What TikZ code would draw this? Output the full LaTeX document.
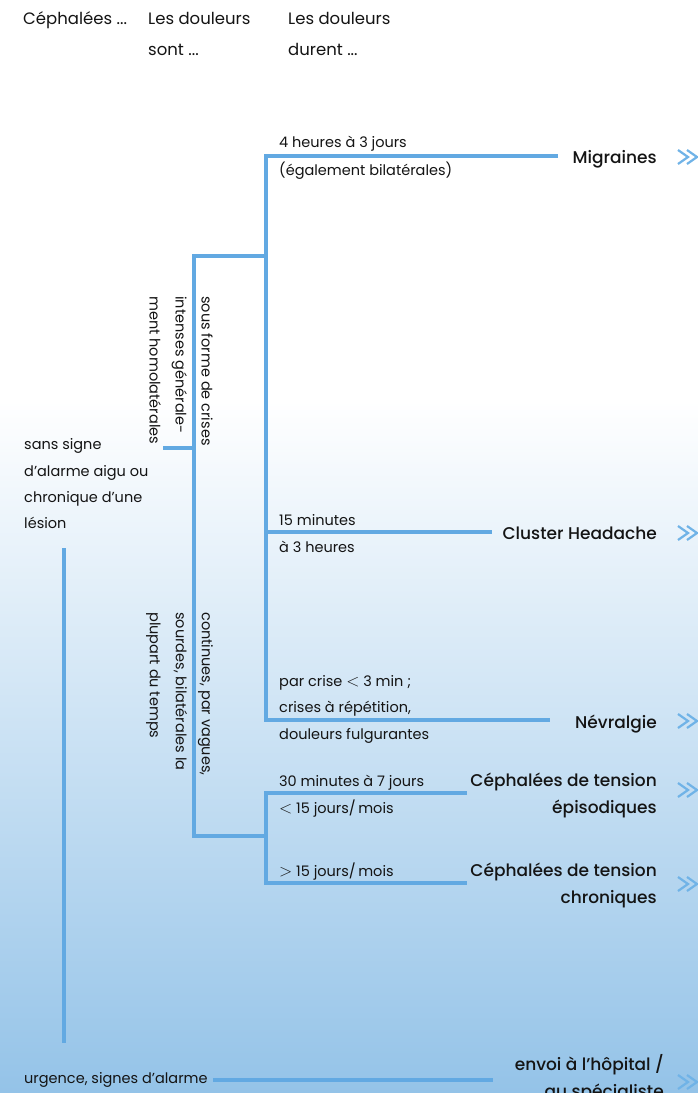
\documentclass[tikz,border=0pt]{standalone}
\usepackage{fontspec}
\setmainfont{Poppins}[BoldFont={Poppins Medium}]
\usetikzlibrary{positioning}
\definecolor{treeblue}{RGB}{98,169,226}
\definecolor{chevblue}{RGB}{112,179,231}
\definecolor{bgblue}{RGB}{148,195,232}
\definecolor{ink}{RGB}{20,20,20}
\newcommand{\bigrel}[1]{{\fontsize{19}{27}\selectfont$#1$}}

\begin{document}
\begin{tikzpicture}[x=1pt, y=-1pt,
    hd/.style={anchor=base west, inner sep=0pt, font=\fontsize{16.5}{30}\selectfont, text=ink},
    txt/.style={anchor=base west, inner sep=0pt, font=\fontsize{14.5}{27}\selectfont, text=ink},
    dx/.style={anchor=base east, inner sep=0pt, font=\bfseries\fontsize{17}{27}\selectfont, text=ink},
    vtxt/.style={anchor=north west, inner sep=0pt, rotate=-90, align=left,
                 font=\fontsize{14.5}{26}\selectfont, text=ink},
    br/.style={draw=treeblue, line width=3.2pt},
    chev/.style={draw=chevblue, line width=2.2pt}]
    \useasboundingbox (0,0) rectangle (698,1093);
    \fill[white] (0,0) rectangle (698,1093);
    \shade[top color=white, bottom color=bgblue] (0,400) rectangle (698,1093);

    % column heads
    \node[hd] (h1) at (23,24) {Céphalées ...};
    \node[hd] (h2a) at (148,24) {Les douleurs};
    \node[hd] (h2b) at (148,55) {sont ...};
    \node[hd] (h3a) at (288,24) {Les douleurs};
    \node[hd] (h3b) at (288,55) {durent ...};

    % tree junctions
    \coordinate (s0) at (163,448);  \coordinate (s1) at (194,448);
    \coordinate (t2top) at (194,256); \coordinate (t2bot) at (194,836);
    \coordinate (c0) at (266,256);
    \coordinate (t3top) at (266,156); \coordinate (t3bot) at (266,720);
    \coordinate (mig0) at (558,156);
    \coordinate (cl0) at (266,532);  \coordinate (cl1) at (492,532);
    \coordinate (nv1) at (550,720);
    \coordinate (k0) at (266,836);
    \coordinate (k1) at (266,793);  \coordinate (k1e) at (467,793);
    \coordinate (k2) at (266,883);  \coordinate (k2e) at (467,883);
    \coordinate (u0) at (64,548);   \coordinate (u1) at (64,1043);
    \coordinate (e0) at (213,1080); \coordinate (e1) at (493,1080);

    \draw[br] (s0) -- (s1);
    \draw[br] (c0) -- (t2top) -- (t2bot) -- (k0);
    \draw[br] (mig0) -- (t3top) -- (t3bot) -- (nv1);
    \draw[br] (cl0) -- (cl1);
    \draw[br] (k1e) -- (k1) -- (k2) -- (k2e);
    \draw[br] (u0) -- (u1);
    \draw[br] (e0) -- (e1);

    % first column
    \node[txt] (a1) at (24,449) {sans signe};
    \node[txt] (a2) at (24,476) {d’alarme aigu ou};
    \node[txt] (a3) at (24,502) {chronique d’une};
    \node[txt] (a4) at (24,528) {lésion};
    \node[txt] (b1) at (24,1083) {urgence, signes d’alarme};

    % second column, turned
    \node[vtxt] (crise) at (213,296) {sous forme de crises\\intenses générale-\\ment homolatérales};
    \node[vtxt] (cont) at (213,612) {continues, par vagues,\\sourdes, bilatérales la\\plupart du temps};

    % durations
    \node[txt] (d1a) at (279,147) {4 heures à 3 jours};
    \node[txt] (d1b) at (279,175) {(également bilatérales)};
    \node[txt] (d2a) at (279,525) {15 minutes};
    \node[txt] (d2b) at (279,552) {à 3 heures};
    \node[txt] (d3a) at (279,686) {par crise \bigrel{<} 3 min ;};
    \node[txt] (d3b) at (279,712) {crises à répétition,};
    \node[txt] (d3c) at (279,739) {douleurs fulgurantes};
    \node[txt] (d4a) at (279,786) {30 minutes à 7 jours};
    \node[txt] (d4b) at (279,813) {\bigrel{<} 15 jours/\,mois};
    \node[txt] (d5a) at (279,876) {\bigrel{>} 15 jours/\,mois};

    % diagnoses
    \node[dx] (mig) at (657,163) {Migraines};
    \node[dx] (clu) at (657,539) {Cluster Headache};
    \node[dx] (nev) at (657,728) {Névralgie};
    \node[dx] (epi1) at (657,786) {Céphalées de tension};
    \node[dx] (epi2) at (657,813) {épisodiques};
    \node[dx] (chr1) at (657,876) {Céphalées de tension};
    \node[dx] (chr2) at (657,903) {chroniques};
    \node[dx] (env1) at (664,1070) {envoi à l’hôpital /};
    \node[dx] (env2) at (664,1097) {au spécialiste};

    \foreach \y in {157,533,721,790,884,1082}
      \draw[chev] (678,\y-7) -- (688,\y) -- (678,\y+7)
                  (687,\y-7) -- (697,\y) -- (687,\y+7);
\end{tikzpicture}
\end{document}
